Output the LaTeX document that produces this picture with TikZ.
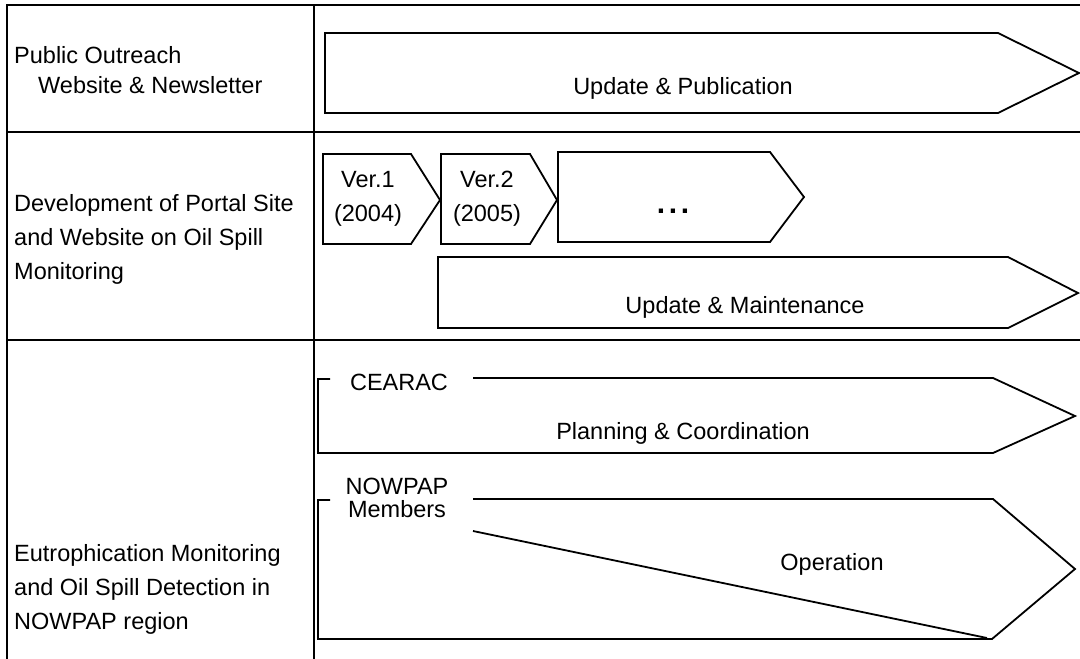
\documentclass[tikz,border=0pt]{standalone}
\usepackage{fontspec}
\setmainfont{Liberation Sans}
\begin{document}
\begin{tikzpicture}[x=1pt,y=-1pt,
  grid/.style={line width=2.4pt},
  shp/.style={line width=1.8pt,line join=miter},
  lbl/.style={inner sep=0pt,font=\fontsize{23.5}{34}\selectfont},
  lft/.style={lbl,anchor=west,align=left}]
\useasboundingbox (0,0) rectangle (1080,659);
% table
\draw[grid] (7,5) -- (1080,5);
\draw[grid] (7,4) -- (7,659);
\draw[grid] (314,5) -- (314,659);
\draw[grid] (7,132) -- (1080,132);
\draw[grid] (7,340) -- (1080,340);
% row labels
\node[lft] (r1a) at (14,55) {Public Outreach};
\node[lft] (r1b) at (38,85) {Website \& Newsletter};
\node[lft] (r2) at (14,239) {Development of Portal Site\\and Website on Oil Spill\\Monitoring};
\node[lft] (r3) at (14,589) {Eutrophication Monitoring\\and Oil Spill Detection in\\NOWPAP region};
% row 1
\draw[shp] (325,33) -- (998,33) -- (1079,73) -- (998,113) -- (325,113) -- cycle;
\node[lbl] (pub) at (683,88) {Update \& Publication};
% row 2
\draw[shp] (323,154) -- (411,154) -- (440,200) -- (411,244) -- (323,244) -- cycle;
\draw[shp] (441,154) -- (530,154) -- (557,200) -- (530,244) -- (441,244) -- cycle;
\draw[shp] (558,152) -- (770,152) -- (804,197) -- (770,242) -- (558,242) -- cycle;
\node[lbl,align=center] (v1) at (368,199) {Ver.1\\(2004)};
\node[lbl,align=center] (v2) at (487,199) {Ver.2\\(2005)};
\node[lbl,anchor=base,font=\fontsize{30}{30}\selectfont] (dots) at (673,213) {\bfseries .\kern3.7pt.\kern3.7pt.};
\draw[shp] (438,257) -- (1008,257) -- (1078,293) -- (1008,328) -- (438,328) -- cycle;
\node[lbl] (maint) at (745,307) {Update \& Maintenance};
% row 3
\draw[shp] (330,379) -- (318,379) -- (318,453) -- (993,453) -- (1075,416) -- (993,378) -- (473,378);
\node[lbl] (cearac) at (399,382) {CEARAC};
\node[lbl] (plan) at (683,433) {Planning \& Coordination};
\draw[shp] (330,500) -- (318,500) -- (318,639) -- (992,639) -- (1075,569) -- (993,499) -- (473,499);
\draw[shp] (473,531) -- (987,638);
\node[lbl,align=center,font=\fontsize{23.5}{23}\selectfont] (nowpap) at (397,498) {NOWPAP\\Members};
\node[lbl] (oper) at (832,564) {Operation};
\end{tikzpicture}
\end{document}
